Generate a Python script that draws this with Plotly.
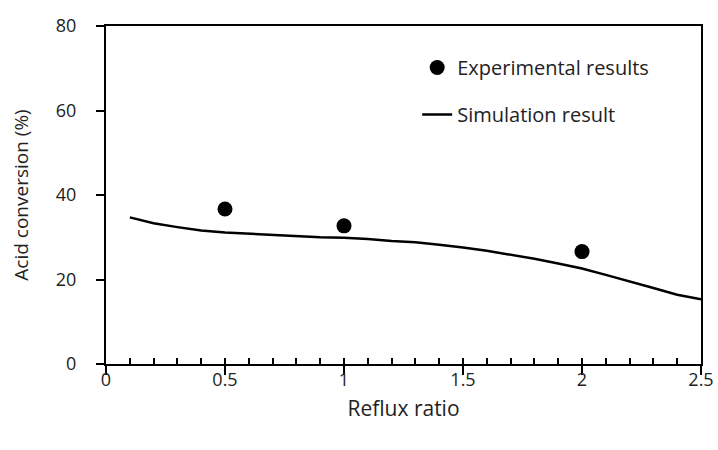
import plotly.graph_objects as go

# Experimental measurements
exp_reflux = [0.5, 1.0, 2.0]
exp_conversion = [36.7, 32.7, 26.6]

# Simulated acid conversion vs reflux ratio
sim_reflux = [0.1, 0.2, 0.3, 0.4, 0.5, 0.6, 0.7, 0.8, 0.9, 1.0, 1.1, 1.2, 1.3,
              1.4, 1.5, 1.6, 1.7, 1.8, 1.9, 2.0, 2.1, 2.2, 2.3, 2.4, 2.5]
sim_conversion = [34.7, 33.3, 32.4, 31.6, 31.1, 30.8, 30.5, 30.3, 30.0, 29.9,
                  29.6, 29.1, 28.8, 28.2, 27.6, 26.8, 25.9, 24.9, 23.8, 22.6,
                  21.1, 19.6, 18.0, 16.4, 15.3]

# Axis tick labels
x_ticks = [0, 0.5, 1, 1.5, 2, 2.5]
x_tick_text = ["0", "0.5", "1", "1.5", "2", "2.5"]
y_ticks = [0, 20, 40, 60, 80]
y_tick_text = ["0", "20", "40", "60", "80"]

FONT = "Open Sans"
TEXT = "#222222"
fig = go.Figure()

fig.add_trace(go.Scatter(
    x=exp_reflux, y=exp_conversion, mode="markers",
    name="Experimental results",
    marker=dict(color="black", size=15),
    legendgroup="a",
))
fig.add_trace(go.Scatter(
    x=sim_reflux, y=sim_conversion, mode="lines",
    name="Simulation result",
    line=dict(color="black", width=2.5),
    legendgroup="b",
))
# invisible helper trace so the minor-tick axis is drawn
fig.add_trace(go.Scatter(x=[0], y=[0], xaxis="x2", mode="markers",
                         marker=dict(opacity=0), showlegend=False,
                         hoverinfo="skip"))

fig.update_layout(
    width=718, height=450,
    margin=dict(l=106, r=17, t=26, b=86, autoexpand=False),
    paper_bgcolor="white", plot_bgcolor="white",
    font=dict(family=FONT, size=18, color=TEXT),
    showlegend=True,
    legend=dict(
        x=0.523, y=0.935, xanchor="left", yanchor="top",
        bgcolor="rgba(0,0,0,0)", traceorder="grouped",
        tracegroupgap=18, font=dict(family=FONT, size=20, color=TEXT),
    ),
    xaxis=dict(
        range=[0, 2.5], tickvals=x_ticks, ticktext=x_tick_text,
        showgrid=False, zeroline=False, automargin=False,
        showline=True, linecolor="black", linewidth=2, mirror=True,
        ticks="outside", ticklen=9, tickwidth=2, tickcolor="black",
        ticklabelstandoff=-11,
        title=dict(text="Reflux ratio", standoff=12,
                   font=dict(family=FONT, size=21, color=TEXT)),
    ),
    xaxis2=dict(
        range=[0, 2.5], dtick=0.1, tick0=0, overlaying="x", anchor="y",
        side="bottom", showgrid=False, zeroline=False, showline=False,
        ticks="inside", ticklen=6, tickwidth=2, tickcolor="black",
        showticklabels=False, automargin=False,
    ),
    yaxis=dict(
        range=[0, 80], tickvals=y_ticks, ticktext=y_tick_text,
        showgrid=False, zeroline=False, automargin=False,
        showline=True, linecolor="black", linewidth=2, mirror=True,
        ticks="outside", ticklen=8, tickwidth=2, tickcolor="black",
        ticklabelstandoff=16,
        title=dict(text="Acid conversion (%)", standoff=22,
                   font=dict(family=FONT, size=19, color=TEXT)),
    ),
)

fig.write_html("out.html")
